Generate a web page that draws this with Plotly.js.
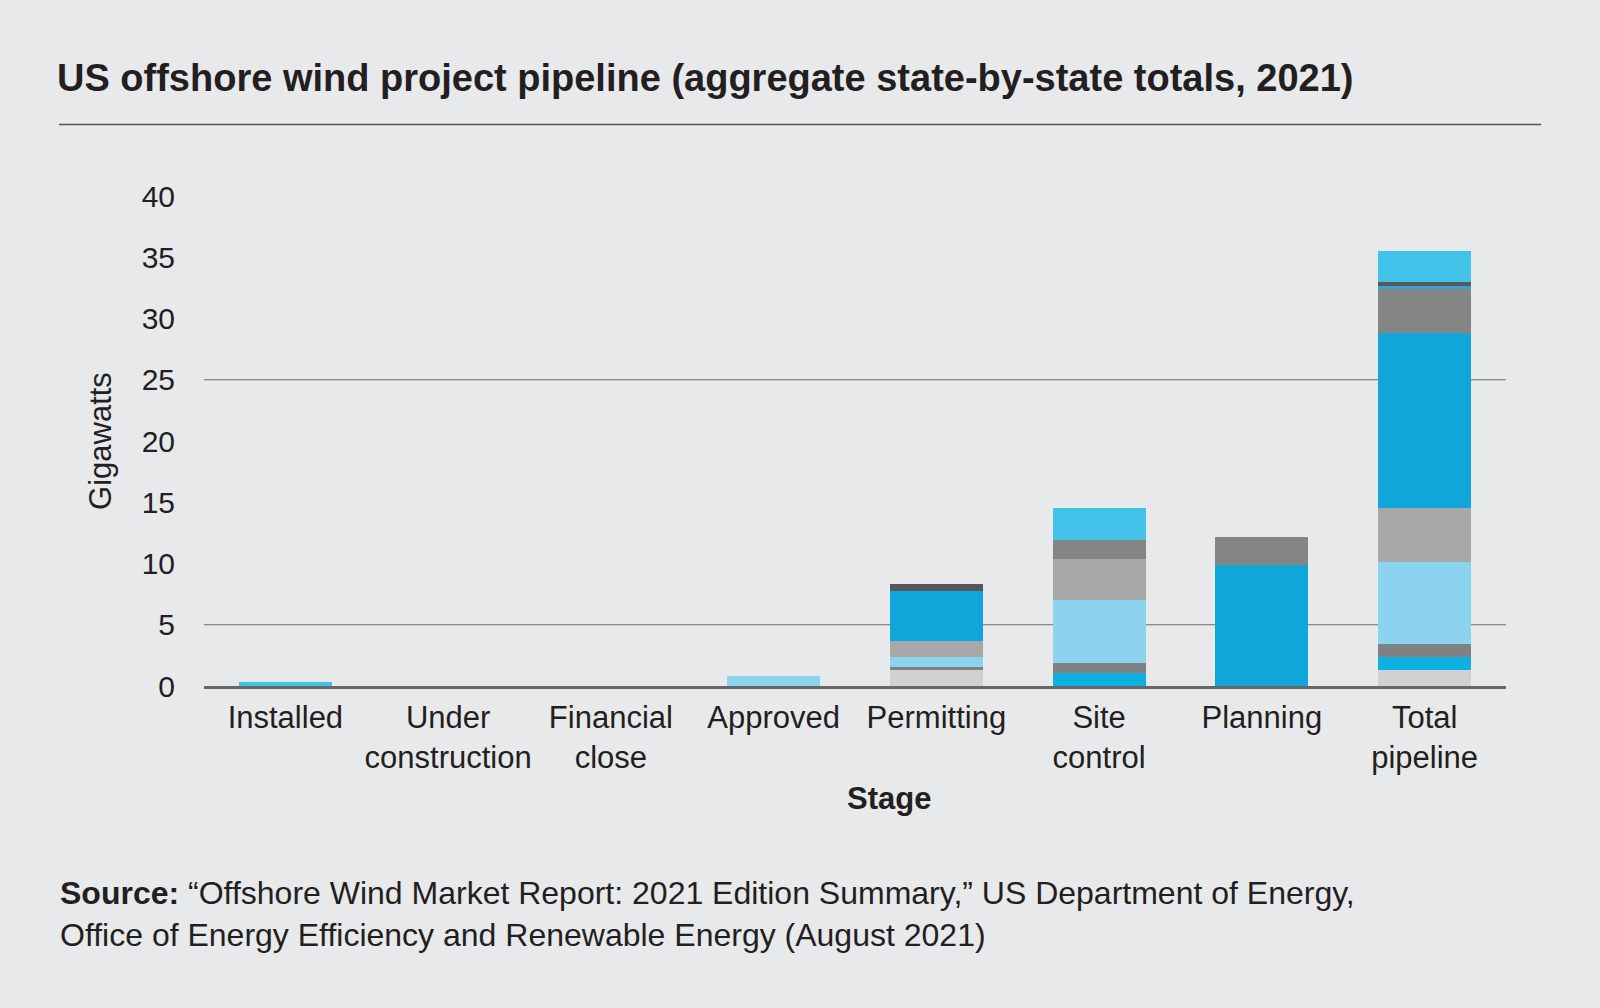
<!DOCTYPE html>
<html>
<head>
<meta charset="utf-8">
<script src="https://cdn.plot.ly/plotly-3.0.1.min.js"></script>
<style>
html,body{margin:0;padding:0;background:#e8e9eb;}
#chart{width:1600px;height:1008px;}
</style>
</head>
<body>
<div id="chart"></div>
<script>
// Categories (stages)
var stages = ["Installed", "Under<br>construction", "Financial<br>close", "Approved", "Permitting", "Site<br>control", "Planning", "Total<br>pipeline"];

// Stacked series (bottom to top), gigawatts per stage
var seriesA = [0, 0, 0, 0, 1.28, 0, 0, 1.31];
var seriesB = [0, 0, 0, 0, 0, 1.04, 0, 1.03];
var seriesC = [0, 0, 0, 0, 0.27, 0.81, 0, 1.06];
var seriesD = [0, 0, 0, 0.8, 0.79, 5.15, 0, 6.73];
var seriesE = [0, 0, 0, 0, 1.34, 3.38, 0, 4.41];
var seriesF = [0, 0, 0, 0, 4.10, 0, 9.86, 14.25];
var seriesG = [0, 0, 0, 0, 0, 1.55, 2.34, 3.62];
var seriesH = [0, 0, 0, 0, 0, 0, 0, 0.27];
var seriesI = [0, 0, 0, 0, 0.55, 0, 0, 0.27];
var seriesJ = [0.35, 0, 0, 0, 0, 2.61, 0, 2.60];

var yTicks = [0, 5, 10, 15, 20, 25, 30, 35, 40];
var gridValues = [5, 25];

var allSeries = [seriesA, seriesB, seriesC, seriesD, seriesE, seriesF, seriesG, seriesH, seriesI, seriesJ];
var colors = ["#d1d1d1", "#0cb1e1", "#7f8183", "#8bd3ef", "#a8a8a8", "#11a6da", "#848685", "#35a2d6", "#575757", "#42c3e9"];

var traces = allSeries.map(function (vals, i) {
  return {
    type: "bar",
    x: stages,
    y: vals,
    marker: {color: colors[i], line: {width: 0}},
    hoverinfo: "skip"
  };
});

var shapes = gridValues.map(function (v) {
  return {type: "line", xref: "paper", yref: "y", x0: 0, x1: 1.0, y0: v, y1: v,
          line: {color: "#6a6a6a", width: 1.2}, layer: "below"};
});
shapes.push({type: "line", xref: "paper", yref: "paper", x0: -0.1114, x1: 1.027, y0: 1.146, y1: 1.146,
             line: {color: "#555555", width: 1.6}});

var txt = "#231f20";
var layout = {
  width: 1600, height: 1008,
  paper_bgcolor: "#e8e9eb", plot_bgcolor: "#e8e9eb",
  margin: {l: 204, r: 94, t: 196, b: 322},
  barmode: "stack",
  bargap: 0.43,
  showlegend: false,
  hovermode: false,
  font: {family: "Liberation Sans, Arial, sans-serif", color: txt},
  title: {
    text: "<b>US offshore wind project pipeline (aggregate state-by-state totals, 2021)</b>",
    x: 57 / 1600, xref: "container", xanchor: "left",
    y: 1 - 78 / 1008, yref: "container", yanchor: "middle",
    font: {size: 38, color: txt, family: "Liberation Sans, Arial, sans-serif"}
  },
  xaxis: {
    type: "category",
    showgrid: false,
    showline: true, linecolor: "#666666", linewidth: 2.5,
    ticks: "", tickfont: {size: 31, color: txt},
    ticklabelstandoff: 2,
    fixedrange: true
  },
  yaxis: {
    range: [0, 40],
    tickvals: yTicks,
    showgrid: false, zeroline: false, showline: false,
    ticks: "", tickfont: {size: 30, color: txt},
    ticklabelstandoff: 28,
    fixedrange: true
  },
  shapes: shapes,
  annotations: [
    {text: "Gigawatts", textangle: -90, xref: "paper", yref: "paper", x: -0.0799, y: 0.5,
     xanchor: "center", yanchor: "middle", showarrow: false, font: {size: 31, color: txt}},
    {text: "<b>Stage</b>", xref: "paper", yref: "paper", x: 0.526, y: -0.2306,
     xanchor: "center", yanchor: "middle", showarrow: false, font: {size: 31, color: txt}},
    {text: "<b>Source:</b> \u201cOffshore Wind Market Report: 2021 Edition Summary,\u201d US Department of Energy,<br>Office of Energy Efficiency and Renewable Energy (August 2021)",
     xref: "paper", yref: "paper", x: -0.1125, y: -0.4663, xanchor: "left", yanchor: "middle", align: "left",
     showarrow: false, font: {size: 32, color: txt}}
  ]
};

Plotly.newPlot("chart", traces, layout, {displayModeBar: false, staticPlot: true});
</script>
</body>
</html>
